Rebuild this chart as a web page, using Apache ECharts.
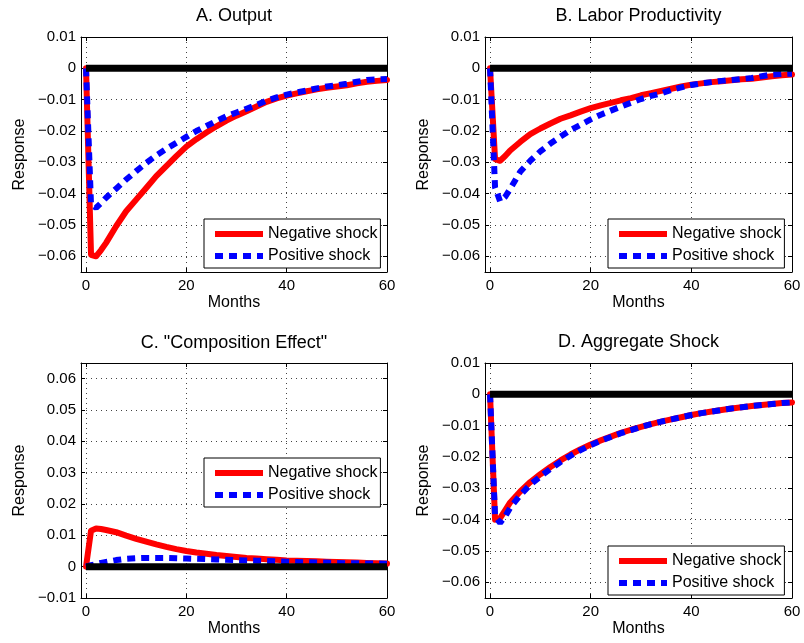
<!DOCTYPE html>
<html>
<head>
<meta charset="utf-8">
<script src="https://cdn.jsdelivr.net/npm/echarts@6/dist/echarts.min.js"></script>
<style>
  html, body { margin: 0; padding: 0; background: #fff; }
  #chart { width: 804px; height: 643px; }
</style>
</head>
<body>
<div id="chart"></div>
<script>
var months = [0, 1, 2, 3, 4, 6, 8, 10, 12, 14, 16, 18, 20, 22, 24, 26, 28, 30, 32, 34, 36, 38, 40, 42, 44, 46, 48, 50, 52, 54, 56, 58, 60];

var outputNeg = [0, -0.0595, -0.0600, -0.0580, -0.0557, -0.0504, -0.0456, -0.0419, -0.0382, -0.0344, -0.0312, -0.0280, -0.0250, -0.0226, -0.0205, -0.0185, -0.0167, -0.0151, -0.0137, -0.0122, -0.0107, -0.0096, -0.0087, -0.0080, -0.0073, -0.0067, -0.0062, -0.0058, -0.0054, -0.0048, -0.0043, -0.0040, -0.0037];
var outputPos = [0, -0.0435, -0.0445, -0.0430, -0.0413, -0.0384, -0.0355, -0.0328, -0.0302, -0.0278, -0.0257, -0.0238, -0.0219, -0.0200, -0.0184, -0.0168, -0.0153, -0.0141, -0.0129, -0.0117, -0.0103, -0.0093, -0.0084, -0.0077, -0.0071, -0.0064, -0.0058, -0.0054, -0.0049, -0.0043, -0.0037, -0.0035, -0.0034];

var prodNeg = [0, -0.0290, -0.0295, -0.0280, -0.0262, -0.0235, -0.0210, -0.0192, -0.0176, -0.0161, -0.0150, -0.0138, -0.0127, -0.0118, -0.0110, -0.0102, -0.0095, -0.0086, -0.0079, -0.0072, -0.0065, -0.0058, -0.0052, -0.0048, -0.0044, -0.0041, -0.0038, -0.0035, -0.0033, -0.0029, -0.0025, -0.0022, -0.0020];
var prodPos = [0, -0.0380, -0.0425, -0.0410, -0.0385, -0.0330, -0.0295, -0.0265, -0.0240, -0.0218, -0.0197, -0.0180, -0.0163, -0.0148, -0.0135, -0.0122, -0.0110, -0.0098, -0.0088, -0.0080, -0.0069, -0.0061, -0.0053, -0.0048, -0.0044, -0.0040, -0.0037, -0.0034, -0.0031, -0.0025, -0.0020, -0.0018, -0.0017];

var compNeg = [0, 0.0115, 0.0122, 0.0120, 0.0117, 0.0110, 0.0099, 0.0089, 0.0080, 0.0071, 0.0063, 0.0056, 0.0050, 0.0045, 0.0041, 0.0037, 0.0034, 0.0031, 0.0028, 0.0026, 0.0024, 0.0022, 0.0020, 0.0019, 0.0018, 0.0017, 0.0016, 0.0015, 0.0014, 0.0013, 0.0012, 0.0011, 0.0010];
var compPos = [0, 0.0005, 0.0008, 0.0012, 0.0015, 0.0021, 0.0025, 0.0027, 0.0028, 0.0028, 0.0028, 0.0027, 0.0026, 0.0025, 0.0024, 0.0023, 0.0022, 0.0021, 0.0020, 0.0019, 0.0018, 0.0017, 0.0016, 0.0015, 0.0014, 0.0013, 0.0013, 0.0012, 0.0011, 0.0011, 0.0010, 0.0010, 0.0009];

var aggNeg = [0, -0.0400, -0.0395, -0.0370, -0.0345, -0.0310, -0.0280, -0.0255, -0.0232, -0.0211, -0.0192, -0.0175, -0.0160, -0.0147, -0.0135, -0.0123, -0.0113, -0.0104, -0.0095, -0.0087, -0.0080, -0.0073, -0.0066, -0.0060, -0.0055, -0.0050, -0.0045, -0.0041, -0.0037, -0.0034, -0.0031, -0.0028, -0.0026];
var aggPos = [0, -0.0390, -0.0410, -0.0390, -0.0362, -0.0322, -0.0288, -0.0262, -0.0238, -0.0216, -0.0196, -0.0178, -0.0162, -0.0148, -0.0136, -0.0124, -0.0114, -0.0104, -0.0095, -0.0087, -0.0080, -0.0073, -0.0066, -0.0060, -0.0055, -0.0050, -0.0045, -0.0041, -0.0037, -0.0034, -0.0031, -0.0028, -0.0026];

var zeroMonths = [0, 60];
var zeroVals = [0, 0];

var xTicks = [0, 20, 40, 60];
var yTicksNeg = [-0.06, -0.05, -0.04, -0.03, -0.02, -0.01, 0, 0.01];
var yTicksPos = [-0.01, 0, 0.01, 0.02, 0.03, 0.04, 0.05, 0.06];

var titles = ['A. Output', 'B. Labor Productivity', 'C. "Composition Effect"', 'D. Aggregate Shock'];
var negData = [outputNeg, prodNeg, compNeg, aggNeg];
var posData = [outputPos, prodPos, compPos, aggPos];

var FONT = '"Liberation Sans", Arial, Helvetica, sans-serif';

var grids = [
    {left: 81, top: 37, width: 306, height: 235},
    {left: 485, top: 37, width: 307, height: 235},
    {left: 81, top: 363, width: 306, height: 235},
    {left: 485, top: 363, width: 307, height: 235}
];
var legendPos = [[204, 219], [608, 219], [204, 458], [608, 546]];
var titleTop = [7, 7, 334, 333];

function pairs(xs, ys) {
    return xs.map(function (x, i) { return [x, ys[i]]; });
}

function fmt(v) {
    if (Math.abs(v) < 1e-9) return '0';
    return (v < 0 ? '\u2212' : '') + Math.abs(v).toFixed(2);
}

var option = {
    animation: false,
    backgroundColor: '#fff',
    textStyle: {fontFamily: FONT},
    title: [],
    grid: [],
    xAxis: [],
    yAxis: [],
    legend: [],
    series: []
};

for (var i = 0; i < 4; i++) {
    var g = grids[i];
    var yTicks = i === 2 ? yTicksPos : yTicksNeg;
    var yMin = i === 2 ? -0.01 : -0.065;
    var yMax = i === 2 ? 0.065 : 0.01;

    option.grid.push({left: g.left, top: g.top, width: g.width, height: g.height, containLabel: false});
    option.title.push({
        text: titles[i],
        left: g.left + g.width / 2,
        textAlign: 'center',
        top: titleTop[i],
        padding: 0,
        textStyle: {fontFamily: FONT, fontSize: 18, fontWeight: 'normal', color: '#000'}
    });

    // bottom x axis
    option.xAxis.push({
        type: 'value', gridIndex: i, min: -1, max: 60, position: 'bottom',
        name: 'Months', nameLocation: 'middle', nameGap: 23,
        nameTextStyle: {fontFamily: FONT, fontSize: 16, color: '#000'},
        axisLine: {show: true, onZero: false, lineStyle: {color: '#000', width: 1}},
        axisTick: {show: true, inside: true, length: 4, customValues: xTicks, lineStyle: {color: '#000'}},
        axisLabel: {show: true, customValues: xTicks, margin: 6, fontFamily: FONT, fontSize: 15, color: '#000'},
        splitLine: {show: true, lineStyle: {color: '#444', width: 1, type: [1, 4]}}
    });
    // top x axis, ticks only
    option.xAxis.push({
        type: 'value', gridIndex: i, min: -1, max: 60, position: 'top',
        axisLine: {show: true, onZero: false, lineStyle: {color: '#000', width: 1}},
        axisTick: {show: true, inside: true, length: 4, customValues: xTicks, lineStyle: {color: '#000'}},
        axisLabel: {show: false},
        splitLine: {show: false}
    });
    // left y axis
    option.yAxis.push({
        type: 'value', gridIndex: i, min: yMin, max: yMax, position: 'left',
        name: 'Response', nameLocation: 'middle', nameGap: 53,
        nameTextStyle: {fontFamily: FONT, fontSize: 16, color: '#000'},
        axisLine: {show: true, onZero: false, lineStyle: {color: '#000', width: 1}},
        axisTick: {show: true, inside: true, length: 4, customValues: yTicks, lineStyle: {color: '#000'}},
        axisLabel: {show: true, customValues: yTicks, margin: 5, fontFamily: FONT, fontSize: 15, color: '#000', formatter: fmt},
        splitLine: {show: true, lineStyle: {color: '#444', width: 1, type: [1, 4]}}
    });
    // right y axis, ticks only
    option.yAxis.push({
        type: 'value', gridIndex: i, min: yMin, max: yMax, position: 'right',
        axisLine: {show: true, onZero: false, lineStyle: {color: '#000', width: 1}},
        axisTick: {show: true, inside: true, length: 4, customValues: yTicks, lineStyle: {color: '#000'}},
        axisLabel: {show: false},
        splitLine: {show: false}
    });

    option.legend.push({
        data: ['Negative shock', 'Positive shock'],
        orient: 'vertical',
        left: legendPos[i][0], top: legendPos[i][1],
        padding: [7, 3, 4, 8],
        itemGap: 6, itemWidth: 48, itemHeight: 14,
        backgroundColor: '#fff', borderColor: '#000', borderWidth: 1, borderRadius: 0,
        selectedMode: false,
        itemStyle: {opacity: 0, borderWidth: 0},
        lineStyle: {width: 6, type: 'inherit', cap: 'butt'},
        textStyle: {fontFamily: FONT, fontSize: 16, color: '#000'}
    });

    option.series.push({
        name: 'Negative shock', type: 'line', xAxisIndex: 2 * i, yAxisIndex: 2 * i,
        data: pairs(months, negData[i]), showSymbol: false, symbol: 'none',
        lineStyle: {color: '#ff0000', width: 6, join: 'round', cap: 'round'},
        itemStyle: {color: '#ff0000'}, z: 2
    });
    option.series.push({
        name: 'Positive shock', type: 'line', xAxisIndex: 2 * i, yAxisIndex: 2 * i,
        data: pairs(months, posData[i]), showSymbol: false, symbol: 'none',
        lineStyle: {color: '#0000ff', width: 6, type: [8, 6], cap: 'butt'},
        itemStyle: {color: '#0000ff'}, z: 3
    });
    option.series.push({
        name: 'zero', type: 'line', xAxisIndex: 2 * i, yAxisIndex: 2 * i,
        data: pairs(zeroMonths, zeroVals), showSymbol: false, symbol: 'none',
        lineStyle: {color: '#000', width: 7, cap: 'butt'}, z: 4
    });
}

var myChart = echarts.init(document.getElementById('chart'), null, {renderer: 'canvas'});
myChart.setOption(option);
</script>
</body>
</html>
